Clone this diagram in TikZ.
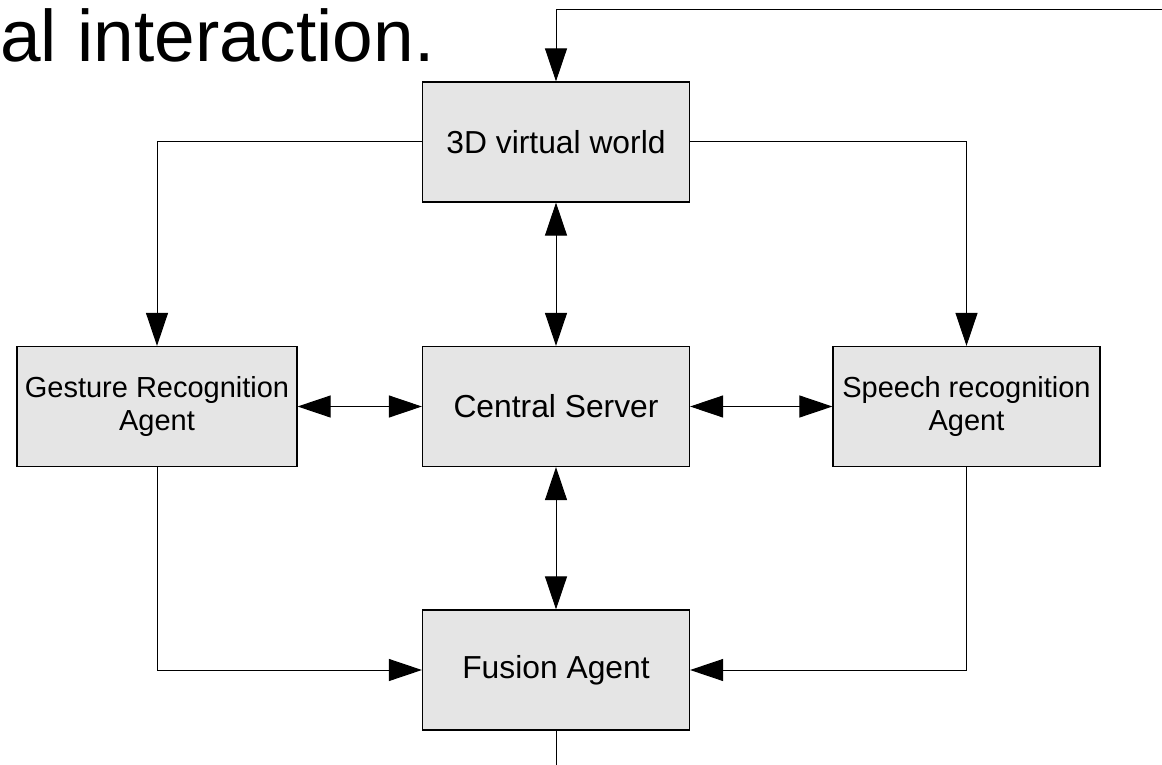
\documentclass[tikz,border=0pt]{standalone}
\usepackage{fontspec}
\setmainfont{Liberation Sans}
\usetikzlibrary{arrows.meta}

\begin{document}
\begin{tikzpicture}[x=0.5pt,y=-0.5pt,>={Triangle[length=16.5pt,width=11pt]}]
    \tikzstyle{block} = [draw,fill=black!10,line width=0.6pt,minimum width=133.5pt,minimum height=60pt,align=center,inner sep=2pt,font=\fontsize{15.9}{17.5}\selectfont]
    \tikzstyle{twoline} = [font=\fontsize{14.5}{16.5}\selectfont]
    \tikzstyle{wire} = [line width=0.5pt]
        \useasboundingbox (0,0) rectangle (1162,765);
        \node[anchor=base west,inner sep=0pt,font=\fontsize{36.5}{40}\selectfont] (title) at (0,62) {al interaction.};
        \node[block] (world) at (556,142) {3D virtual world};
        \node[block] (server) at (556,406.5) {Central Server};
        \node[block] (fusion) at (556,670) {Fusion Agent};
        \node[block,twoline,minimum width=140pt] (gesture) at (157,406.5) {Gesture Recognition\\Agent};
        \node[block,twoline] (speech) at (966.5,406.5) {Speech recognition\\Agent};
        \coordinate (feedin) at (1162,10);
        \coordinate (feedout) at (556,765);
        % feedback from outside into the world
        \draw[wire,->] (feedin) -| (world.north);
        \draw[wire,->] (world.west) -| (gesture.north);
        \draw[wire,->] (world.east) -| (speech.north);
        % links to the server
        \draw[wire,<->] (world.south) -- (server.north);
        \draw[wire,<->] (gesture.east) -- (server.west);
        \draw[wire,<->] (server.east) -- (speech.west);
        \draw[wire,<->] (server.south) -- (fusion.north);
        % agents into fusion
        \draw[wire,->] (gesture.south) |- (fusion.west);
        \draw[wire,->] (speech.south) |- (fusion.east);
        \draw[wire] (fusion.south) -- (feedout);
    \end{tikzpicture}
\end{document}
